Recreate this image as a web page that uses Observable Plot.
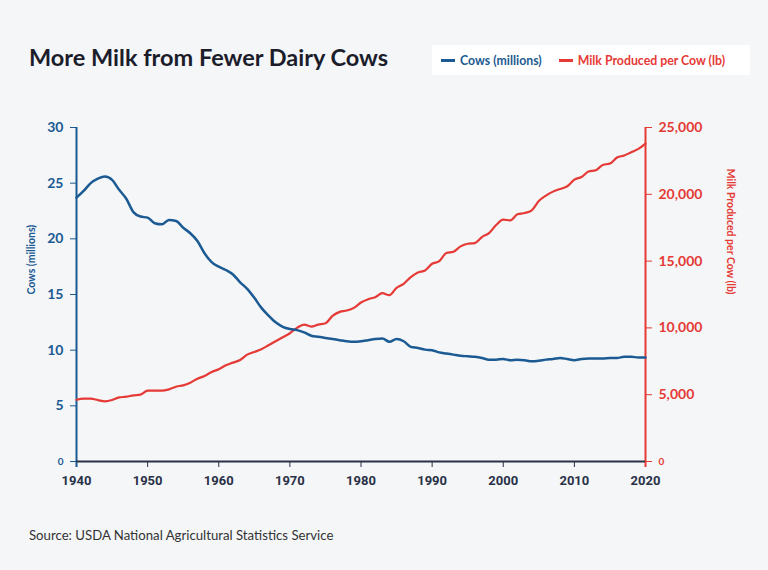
<!DOCTYPE html>
<html>
<head>
<meta charset="utf-8">
<script src="https://cdn.jsdelivr.net/npm/d3@7"></script>
<script src="https://cdn.jsdelivr.net/npm/@observablehq/plot@0.6"></script>
<style>
  html, body { margin: 0; padding: 0; }
  body { width: 768px; height: 570px; background: #f4f6f8; position: relative; overflow: hidden; font-family: Lato, "Noto Sans", sans-serif; }
  #title { position: absolute; left: 29px; top: 44px; font-size: 23.5px; line-height: 26px; font-weight: 700; color: #1c1d2b; }
  #legend { position: absolute; left: 432px; top: 45px; width: 318px; height: 30px; background: #fff; display: flex; align-items: center; font-size: 12.3px; font-weight: 700; }
  .item { display: flex; align-items: center; margin-left: 9px; margin-right: 8px; }
  .sw { width: 14px; height: 3px; margin-right: 5px; }
  #chart { position: absolute; left: 0; top: 100px; }
  #source { position: absolute; left: 29px; top: 527px; font-size: 13.2px; color: #333; }
</style>
</head>
<body>
<div id="title">More Milk from Fewer Dairy Cows</div>
<div id="legend">
  <div class="item" style="color:#1b5a92"><div class="sw" style="background:#1b5a92"></div>Cows (millions)</div>
  <div class="item" style="color:#e53a35"><div class="sw" style="background:#e53a35"></div>Milk Produced per Cow (lb)</div>
</div>
<div id="chart"></div>
<div id="source">Source: USDA National Agricultural Statistics Service</div>
<script>
const years = d3.range(1940, 2021);
const cows = [
  23.7, 24.3, 25.0, 25.4, 25.6, 25.3, 24.4, 23.6, 22.4, 22.0,
  21.9, 21.4, 21.3, 21.7, 21.6, 21.0, 20.5, 19.8, 18.7, 17.9,
  17.5, 17.2, 16.8, 16.1, 15.5, 14.7, 13.8, 13.1, 12.5, 12.1,
  11.9, 11.8, 11.6, 11.3, 11.2, 11.1, 11.0, 10.9, 10.8, 10.75,
  10.8, 10.9, 11.0, 11.05, 10.75, 11.0, 10.8, 10.3, 10.2, 10.05,
  10.0, 9.8, 9.7, 9.6, 9.5, 9.45, 9.4, 9.3, 9.15, 9.15,
  9.2, 9.1, 9.15, 9.1, 9.0, 9.05, 9.15, 9.2, 9.3, 9.2,
  9.1, 9.2, 9.25, 9.25, 9.25, 9.3, 9.3, 9.4, 9.4, 9.35,
  9.35
];
const milk = [
  4622, 4700, 4700, 4600, 4500, 4600, 4800, 4850, 4950, 5000,
  5300, 5300, 5300, 5400, 5600, 5700, 5900, 6200, 6400, 6700,
  6900, 7200, 7400, 7600, 8000, 8200, 8400, 8700, 9000, 9300,
  9600, 10000, 10250, 10100, 10250, 10350, 10900, 11200, 11300, 11500,
  11900, 12150, 12300, 12600, 12450, 13000, 13300, 13800, 14150, 14300,
  14800, 15000, 15600, 15700, 16100, 16300, 16350, 16800, 17100, 17700,
  18100, 18050, 18500, 18600, 18800, 19500, 19900, 20200, 20400, 20600,
  21100, 21300, 21700, 21800, 22200, 22300, 22750, 22900, 23150, 23400,
  23800
];
const xTicks = [1940, 1950, 1960, 1970, 1980, 1990, 2000, 2010, 2020];
const cowTicks = [5, 10, 15, 20, 25, 30];
const milkTicks = [5000, 10000, 15000, 20000, 25000];

const BLUE = "#1b5a92", RED = "#e53a35", DARK = "#2a3147";
const k = 30 / 25000;
const data = years.map((y, i) => ({year: y, cows: cows[i], milk: milk[i], milkS: milk[i] * k}));

const plot = Plot.plot({
  width: 768,
  height: 400,
  marginLeft: 76,
  marginRight: 123,
  marginTop: 27,
  marginBottom: 39,
  style: {background: "transparent", fontFamily: "Lato, sans-serif", overflow: "visible"},
  x: {domain: [1940, 2020], axis: null},
  y: {domain: [0, 30], axis: null},
  marks: [
    Plot.axisY(cowTicks, {anchor: "left", tickSize: 6, tickPadding: 7, color: BLUE, fontSize: 14, fontWeight: 700, label: null}),
    Plot.axisY([0], {anchor: "left", tickSize: 6, tickPadding: 7, color: BLUE, fontSize: 10, fontWeight: 700, label: null}),
    Plot.axisY(milkTicks.map(d => d * k), {anchor: "right", tickSize: 6, tickPadding: 7, color: RED, fontSize: 14, fontWeight: 700, label: null, tickFormat: d => d3.format(",")(Math.round(d / k))}),
    Plot.axisY([0], {anchor: "right", tickSize: 6, tickPadding: 7, color: RED, fontSize: 10, fontWeight: 700, label: null}),
    Plot.axisX(xTicks, {anchor: "bottom", tickSize: 6, tickPadding: 8, color: DARK, fontSize: 13, fontWeight: 700, tickFormat: "d", label: null, fontFamily: "Roboto, sans-serif"}),
    Plot.ruleX([1940], {stroke: BLUE, strokeWidth: 2, insetBottom: -6}),
    Plot.ruleX([2020], {stroke: RED, strokeWidth: 2, insetBottom: -6}),
    Plot.ruleY([0], {stroke: DARK, strokeWidth: 2}),
    Plot.line(data, {x: "year", y: "milkS", stroke: RED, strokeWidth: 2.2, curve: "monotone-x"}),
    Plot.line(data, {x: "year", y: "cows", stroke: BLUE, strokeWidth: 2.5, curve: "monotone-x"}),
    Plot.text(["Cows (millions)"], {frameAnchor: "left", dx: -45, rotate: -90, fill: BLUE, fontSize: 10.5, fontWeight: 700, text: d => d}),
    Plot.text(["Milk Produced per Cow (lb)"], {frameAnchor: "right", dx: 85, rotate: 90, fill: RED, fontSize: 10.5, fontWeight: 700, text: d => d})
  ]
});
document.getElementById("chart").appendChild(plot);
</script>
</body>
</html>
